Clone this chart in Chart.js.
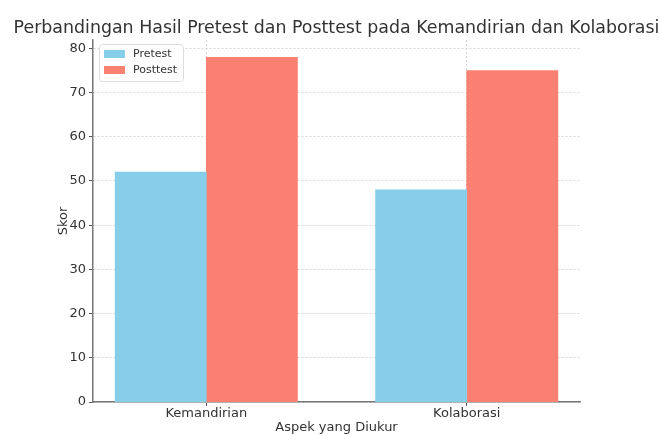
<!DOCTYPE html>
<html>
<head>
<meta charset="utf-8">
<script src="https://cdn.jsdelivr.net/npm/chart.js@4.4.0/dist/chart.umd.min.js"></script>
<style>
  body { margin: 0; background: #fff; }
  #wrap { width: 661px; height: 435px; }
</style>
</head>
<body>
<div id="wrap"><canvas id="chart"></canvas></div>
<script>
// data
var categories = ["Kemandirian", "Kolaborasi"];
var pretest    = [52, 48];
var posttest   = [78, 75];
var yTicks     = [0, 10, 20, 30, 40, 50, 60, 70, 80];
var chartTitle = 'Perbandingan Hasil Pretest dan Posttest pada Kemandirian dan Kolaborasi';

var BAR_W = 0.35;   // matplotlib bar width, in category units

function to_points(values, shift) {
    return values.map(function(v, i) {
        return { x: i + shift, y: v };
    });
}

// title centred over the plot area (the built-in one squeezes it)
var plotTitle = {
    id: 'plotTitle',
    afterDraw: function(chart) {
        var ctx = chart.ctx;
        var area = chart.chartArea;
        ctx.save();
        ctx.font = '17.4px "DejaVu Sans"';
        ctx.fillStyle = '#333333';
        ctx.textAlign = 'center';
        ctx.textBaseline = 'alphabetic';
        ctx.fillText(chartTitle, (area.left + area.right) / 2, 33);
        ctx.restore();
    }
};

// legend drawn inside the plot, top left
var innerLegend = {
    id: 'innerLegend',
    afterDraw: function(chart) {
        var ctx = chart.ctx;
        var area = chart.chartArea;
        var sets = chart.data.datasets;
        var x = area.left + 6, y = area.top + 4;
        var w = 84, h = 37;
        ctx.save();
        ctx.fillStyle = 'rgba(255,255,255,0.8)';
        ctx.strokeStyle = '#dddddd';
        ctx.lineWidth = 1;
        ctx.beginPath();
        ctx.roundRect(x + 0.5, y + 0.5, w, h, 3);
        ctx.fill();
        ctx.stroke();
        ctx.font = '11px "DejaVu Sans"';
        ctx.textBaseline = 'middle';
        for (var i = 0; i < sets.length; i++) {
            var ry = y + 10 + i * 16;
            ctx.fillStyle = sets[i].backgroundColor;
            ctx.fillRect(x + 5, ry - 4, 21, 8);
            ctx.fillStyle = '#333333';
            ctx.fillText(sets[i].label, x + 34, ry);
        }
        ctx.restore();
    }
};

var gridStyle = {
    color: '#cccccc',
    lineWidth: 0.8,
    offset: false,
    drawTicks: true,
    tickLength: 4,
    tickColor: '#555555',
    tickBorderDash: [],
    tickWidth: 1
};

var config = {
    type: 'bar',
    data: {
        datasets: [
            {
                label: 'Pretest',
                data: to_points(pretest, -BAR_W / 2),
                backgroundColor: '#87CEEB',
                grouped: false,
                categoryPercentage: 1,
                barPercentage: 1
            },
            {
                label: 'Posttest',
                data: to_points(posttest, BAR_W / 2),
                backgroundColor: '#FA8072',
                grouped: false,
                categoryPercentage: 1,
                barPercentage: 1
            }
        ]
    },
    options: {
        responsive: true,
        maintainAspectRatio: false,
        animation: false,
        layout: { padding: { left: 52, right: 81, top: 40, bottom: 0 } },
        plugins: {
            legend: { display: false },
            tooltip: { enabled: false },
            title: { display: false }
        },
        scales: {
            x: {
                type: 'linear',
                offset: false,
                min: -BAR_W - 0.085,
                max: categories.length - 1 + BAR_W + 0.085,
                z: 1,
                afterBuildTicks: function(scale) {
                    scale.ticks = categories.map(function(c, i) { return { value: i }; });
                },
                afterFit: function(scale) { scale.height = 33; },
                ticks: {
                    color: '#333333',
                    font: { family: 'DejaVu Sans', size: 13 },
                    padding: 0,
                    callback: function(v) { return categories[v]; }
                },
                grid: gridStyle,
                border: { display: true, color: '#777777', width: 1.5, dash: [2, 2] },
                title: {
                    display: true,
                    text: 'Aspek yang Diukur',
                    color: '#333333',
                    font: { family: 'DejaVu Sans', size: 13 },
                    padding: { top: 0, bottom: 0 }
                }
            },
            y: {
                min: 0,
                max: 81.9,
                z: 1,
                afterBuildTicks: function(scale) {
                    scale.ticks = yTicks.map(function(v) { return { value: v }; });
                },
                afterFit: function(scale) { scale.width = 41; },
                ticks: {
                    color: '#333333',
                    font: { family: 'DejaVu Sans', size: 13 },
                    padding: 3
                },
                grid: gridStyle,
                border: { display: true, color: '#777777', width: 1.5, dash: [2, 2] },
                title: {
                    display: true,
                    text: 'Skor',
                    color: '#333333',
                    font: { family: 'DejaVu Sans', size: 13 },
                    padding: { top: 4, bottom: 4 }
                }
            }
        }
    },
    plugins: [plotTitle, innerLegend]
};

var ctx = document.getElementById('chart').getContext('2d');
window.myBar = new Chart(ctx, config);
</script>
</body>
</html>
